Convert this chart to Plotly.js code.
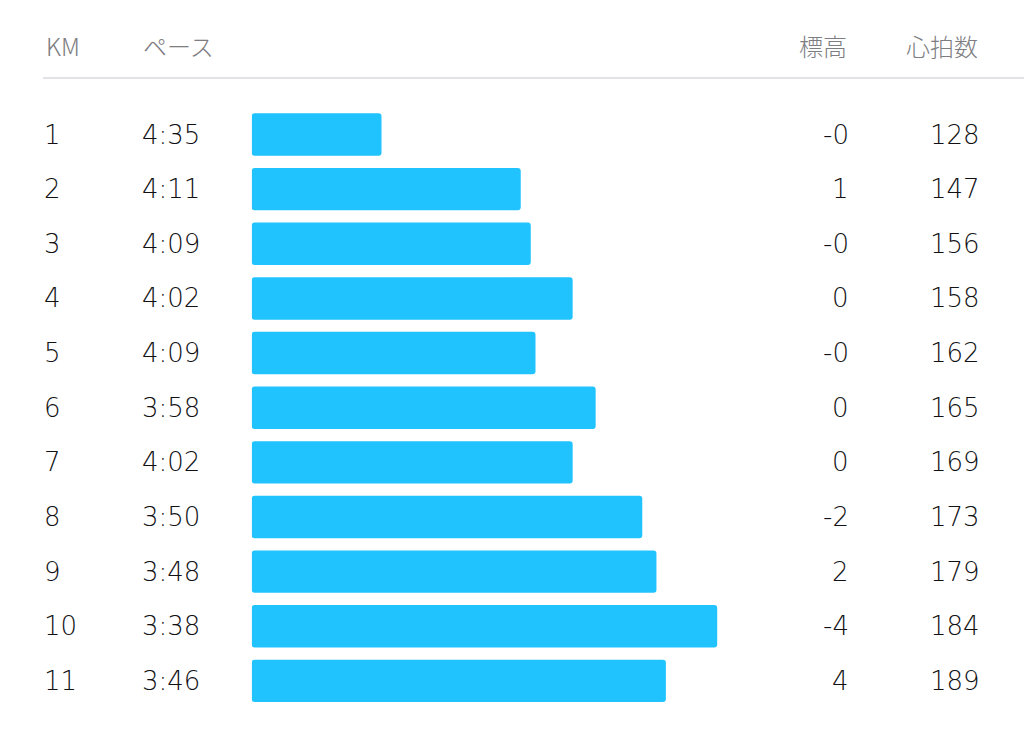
<!DOCTYPE html>
<html>
<head>
<meta charset="utf-8">
<script src="https://cdn.plot.ly/plotly-3.0.1.min.js"></script>
<style>
  html, body { margin: 0; padding: 0; background: #fff; }
  #myDiv { width: 1024px; height: 730px; }
</style>
</head>
<body>
<div id="myDiv"></div>
<script>
// split table: km, pace (shown / estimated seconds), elevation, heart rate
var km = [1, 2, 3, 4, 5, 6, 7, 8, 9, 10, 11];
var paceLabels = ['4:35', '4:11', '4:09', '4:02', '4:09', '3:58', '4:02', '3:50', '3:48', '3:38', '3:46'];
var paceSec = [275.1, 251.5, 249.8, 242.7, 249.0, 238.8, 242.7, 230.9, 228.5, 218.2, 226.9];
var elevation = ['-0', '1', '-0', '0', '-0', '0', '0', '-2', '2', '-4', '4'];
var heartRate = [128, 147, 156, 158, 162, 165, 169, 173, 179, 184, 189];
var headers = ['KM', 'ペース', '標高', '心拍数'];

var slowest = 297.1;   // left edge of the pace bars

var W = 1024, H = 730;
var numFont = { family: '"DejaVu Sans", sans-serif', size: 26, weight: 200, color: '#111114' };
var headFont = { family: '"Noto Sans CJK JP", sans-serif', size: 24, weight: 300, color: '#7d7d82' };

var bars = {
  type: 'bar',
  orientation: 'h',
  y: km,
  x: paceSec.map(function (p) { return p - slowest; }),
  base: slowest,
  width: 0.776,
  marker: { color: '#20c3fe', cornerradius: 3, line: { width: 0 } },
  hoverinfo: 'skip'
};

var ann = [];
// [body x, header x, anchor, values]
var cols = [
  [42, 44, 'left', km.map(String)],
  [140, 141, 'left', paceLabels],
  [851, 849, 'right', elevation],
  [982, 980, 'right', heartRate.map(String)]
];
cols.forEach(function (c) {
  for (var i = 0; i < km.length; i++) {
    ann.push({ xref: 'paper', yref: 'y', x: c[0] / W, y: km[i], text: c[3][i],
      xanchor: c[2], yanchor: 'middle', showarrow: false, font: numFont });
  }
});
var headY = 1 - 45 / H;
headers.forEach(function (h, j) {
  ann.push({ xref: 'paper', yref: 'paper', x: cols[j][1] / W, y: headY, text: h,
    xanchor: cols[j][2], yanchor: 'middle', showarrow: false, font: headFont });
});

var layout = {
  width: W, height: H, autosize: false,
  margin: { l: 0, r: 0, t: 0, b: 0, pad: 0 },
  paper_bgcolor: '#ffffff', plot_bgcolor: '#ffffff',
  showlegend: false,
  xaxis: {
    domain: [251.7 / W, 1],
    range: [slowest, slowest - (W - 251.7) / 5.9],
    visible: false, fixedrange: true
  },
  yaxis: {
    domain: [21.8 / H, 622.8 / H],
    range: [11.5, 0.5],
    visible: false, fixedrange: true
  },
  annotations: ann,
  shapes: [{ type: 'line', xref: 'paper', yref: 'paper',
    x0: 43 / W, x1: 1, y0: 1 - 78 / H, y1: 1 - 78 / H,
    line: { color: '#e2e2e7', width: 2 } }]
};

Plotly.newPlot('myDiv', [bars], layout, { displayModeBar: false, staticPlot: true });
</script>
</body>
</html>
